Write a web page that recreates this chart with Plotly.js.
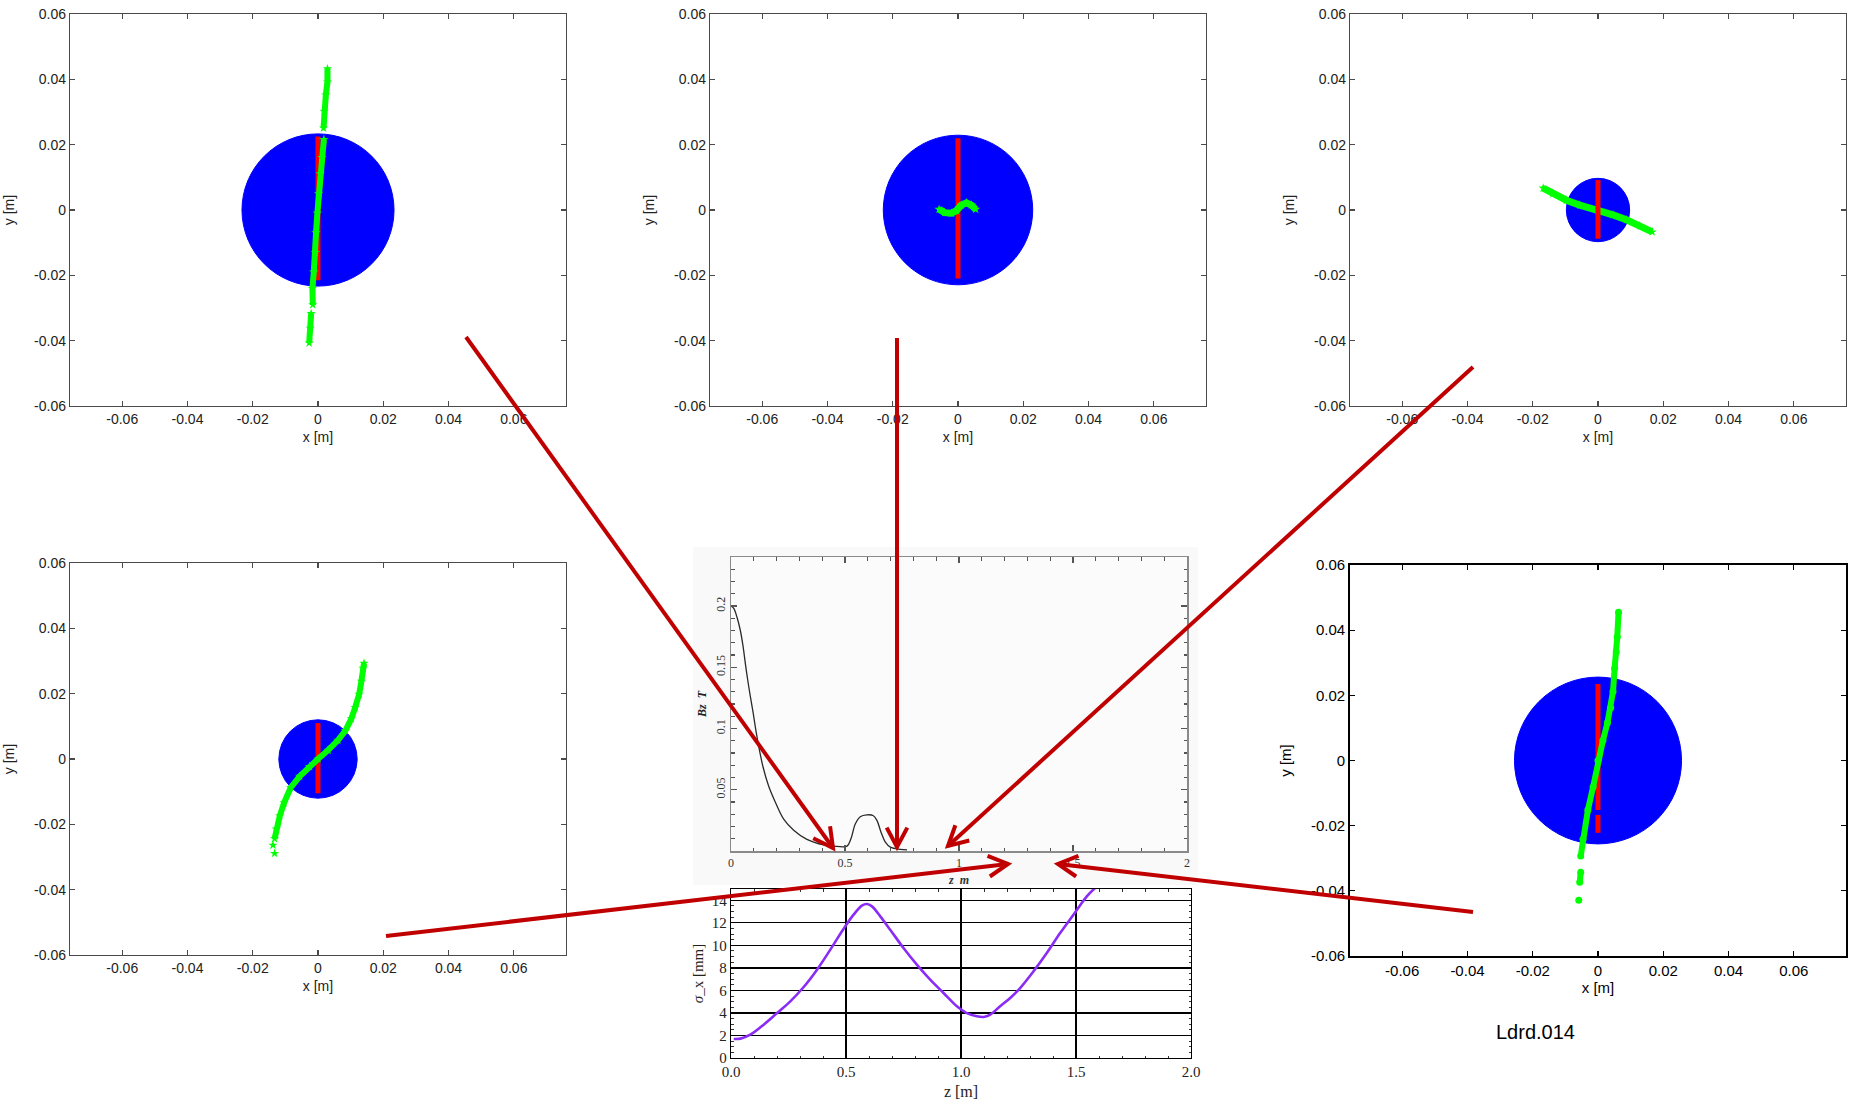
<!DOCTYPE html>
<html><head><meta charset="utf-8">
<script src="https://cdn.plot.ly/plotly-3.0.1.min.js"></script>
<style>html,body{margin:0;padding:0;background:#fff}#chart{width:1858px;height:1104px}</style>
</head><body><div id="chart"></div>
<script>
// ---------------- data ----------------
// beam radius [m] of the blue particle disc in each transverse panel (TL, TM, TR, BL, BR)
const beamRadius = [0.0233, 0.0229, 0.0097, 0.0120, 0.0256];

// red (vertical) particle line, y extent [m]
const redY1 = [0.0225, -0.0215];
const redY2 = [0.0220, -0.0210];
const redY3 = [0.0092, -0.0088];
const redY4 = [0.0110, -0.0105];
const redY5 = [0.0235, -0.0152, null, -0.0167, -0.0222];

// green particle line [m]
const greenX1 = [0.0029,0.0029,0.0024,0.0019,0.0017,null,0.0018,0.0012,0.0007,0.0002,-0.0002,-0.0006,-0.0008,-0.0013,-0.0017,-0.0016,null,-0.0021,-0.0024,-0.0027];
const greenY1 = [0.0432,0.0392,0.0352,0.0302,0.0251,null,0.0216,0.0161,0.0111,0.0050,-0.0010,-0.0070,-0.0130,-0.0190,-0.0240,-0.0290,null,-0.0317,-0.0362,-0.0407];
const greenX2 = [-0.0058,-0.0041,-0.0020,-0.0005,0.0010,0.0026,0.0041,0.0054];
const greenY2 = [0.0002,-0.0008,-0.0010,-0.0002,0.0015,0.0022,0.0015,0.0002];
const greenX3 = [-0.0168,-0.0138,-0.0097,-0.0056,0.0000,0.0046,0.0087,0.0128,0.0166];
const greenY3 = [0.0067,0.0050,0.0030,0.0015,0.0000,-0.0015,-0.0030,-0.0048,-0.0067];
const greenX4 = [-0.0133,null,-0.0138,null,-0.0133,-0.0128,-0.0117,-0.0104,-0.0084,-0.0056,-0.0026,0.0000,0.0031,0.0061,0.0084,0.0102,0.0114,0.0126,0.0133,0.0138,0.0141];
const greenY4 = [-0.0289,null,-0.0264,null,-0.0244,-0.0214,-0.0174,-0.0134,-0.0088,-0.0053,-0.0023,0.0000,0.0027,0.0057,0.0087,0.0123,0.0158,0.0198,0.0238,0.0278,0.0293];
const greenX5 = [-0.0059,null,-0.0056,-0.0053,null,-0.0053,-0.0046,-0.0031,-0.0015,0.0000,0.0015,0.0029,0.0039,0.0046,0.0051,0.0056,0.0059,0.0063];
const greenY5 = [-0.0429,null,-0.0374,-0.0343,null,-0.0293,-0.0242,-0.0152,-0.0081,0.0000,0.0061,0.0116,0.0162,0.0212,0.0283,0.0333,0.0379,0.0455];

// on-axis field Bz [T] versus z [m]
const bzZ = [0.000,0.012,0.026,0.041,0.053,0.063,0.073,0.085,0.097,0.107,0.121,0.140,0.165,0.194,0.231,0.275,0.333,0.406,0.480,0.509,0.526,0.545,0.567,0.596,0.623,0.640,0.658,0.677,0.699,0.743,0.772];
const bzB = [0.200,0.198,0.191,0.180,0.167,0.153,0.140,0.126,0.113,0.101,0.086,0.069,0.053,0.040,0.026,0.017,0.0095,0.0050,0.0035,0.0040,0.0100,0.0220,0.0280,0.0295,0.0290,0.0250,0.0154,0.0073,0.0032,0.0014,0.0010];

// rms beam size sigma_x [mm] versus z [m]
const sigZ = [0.012,0.041,0.084,0.142,0.200,0.258,0.316,0.374,0.432,0.489,0.533,0.569,0.591,0.613,0.649,0.692,0.750,0.808,0.866,0.924,0.982,1.025,1.069,1.098,1.127,1.170,1.214,1.257,1.315,1.373,1.431,1.489,1.547,1.583];
const sigX = [1.69,1.72,2.07,2.96,3.99,5.03,6.30,7.84,9.62,11.45,12.72,13.52,13.67,13.46,12.57,11.39,9.76,8.28,6.95,5.77,4.59,3.99,3.70,3.64,3.85,4.59,5.33,6.21,7.69,9.32,11.09,12.72,14.35,15.09];

// tick labels
const xyTickVals = [-0.06,-0.04,-0.02,0,0.02,0.04,0.06];
const xyTickText = ['-0.06','-0.04','-0.02','0','0.02','0.04','0.06'];
const bzXTickVals = [0,0.5,1,1.5,2];
const bzXTickText = ['0','0.5','1','1.5','2'];
const bzYTickVals = [0.05,0.1,0.15,0.2];
const bzYTickText = ['0.05','0.1','0.15','0.2'];
const sigXTickVals = [0,0.5,1,1.5,2];
const sigXTickText = ['0.0','0.5','1.0','1.5','2.0'];
const sigYTickVals = [0,2,4,6,8,10,12,14];
const sigYTickText = ['0','2','4','6','8','10','12','14'];

// ---------------- layout helpers ----------------
const W = 1858, H = 1104;
const hd = (a,b) => [a/W, b/W];
const vd = (top,bottom) => [1-bottom/H, 1-top/H];
const SANS = 'Liberation Sans, Arial, sans-serif';
const SERIF = 'Liberation Serif, Times New Roman, serif';

// panel boxes [left,right,top,bottom] in pixels
const boxes = [[70,566,14,406],[710,1206,14,406],[1350,1846,14,406],[70,566,563,955],[1350,1846,565,956]];

const layout = {
  width: W, height: H,
  margin: {l:0, r:0, t:0, b:0},
  paper_bgcolor: '#ffffff',
  plot_bgcolor: 'rgba(0,0,0,0)',
  showlegend: false,
  shapes: [],
  annotations: []
};

const traces = [];
const reds = [redY1, redY2, redY3, redY4, redY5];
const gx = [greenX1, greenX2, greenX3, greenX4, greenX5];
const gy = [greenY1, greenY2, greenY3, greenY4, greenY5];

boxes.forEach((b, i) => {
  const n = i + 1;
  const xa = 'xaxis' + (n === 1 ? '' : n), ya = 'yaxis' + (n === 1 ? '' : n);
  const xr = 'x' + (n === 1 ? '' : n), yr = 'y' + (n === 1 ? '' : n);
  const isBR = (i === 4);
  const lc = isBR ? '#000000' : '#4a4a4a';
  const tf = {family: SANS, size: isBR ? 15 : 14, color: isBR ? '#000' : '#222'};
  const common = {
    showline: true, mirror: 'ticks', linecolor: lc, linewidth: isBR ? 1.8 : 1.2,
    ticks: 'inside', ticklen: 5, tickwidth: 1.2, tickcolor: lc,
    showgrid: false, zeroline: false, tickmode: 'array',
    tickvals: xyTickVals, ticktext: xyTickText, tickfont: tf, fixedrange: true
  };
  layout[xa] = Object.assign({}, common, {
    domain: hd(b[0], b[1]), anchor: yr, range: [-0.0760, 0.0760],
    title: {text: 'x [m]', font: {family: SANS, size: isBR ? 15 : 14, color: isBR ? '#000' : '#222'}, standoff: isBR ? 4 : 6}
  });
  layout[ya] = Object.assign({}, common, {
    domain: vd(b[2], b[3]), anchor: xr, range: [-0.06, 0.06],
    title: {text: 'y [m]', font: {family: SANS, size: isBR ? 15 : 14, color: isBR ? '#000' : '#222'}, standoff: 16}
  });
  // blue particle disc
  const r = beamRadius[i];
  layout.shapes.push({type: 'circle', xref: xr, yref: yr, x0: -r, x1: r, y0: -r, y1: r,
    fillcolor: '#0000ff', line: {color: '#0000ff', width: 1}, layer: 'below'});
  const red = {x: reds[i].map(v => v === null ? null : 0), y: reds[i], xaxis: xr, yaxis: yr,
    mode: 'lines', line: {color: '#ff0000', width: 5}, hoverinfo: 'skip'};
  const green = {x: gx[i], y: gy[i], xaxis: xr, yaxis: yr,
    mode: 'lines+markers', line: {color: '#00ff00', width: (i === 1 || i === 2) ? 7 : 6},
    marker: {color: '#00ff00', size: isBR ? 7 : 7, symbol: isBR ? 'circle' : 'star'},
    hoverinfo: 'skip'};
  if (i === 2) { traces.push(green, red); } else { traces.push(red, green); }
});

// Bz plot background
layout.shapes.push({type: 'rect', xref: 'paper', yref: 'paper', x0: 693/W, x1: 1198/W, y0: 1-885/H, y1: 1-547/H,
  fillcolor: '#f9f9f9', line: {width: 0}, layer: 'below'});

layout.xaxis6 = {
  domain: hd(731, 1187), anchor: 'y6', range: [0, 2], showline: true, mirror: 'ticks', linecolor: '#8a8a8a', linewidth: 1.5,
  ticks: 'inside', ticklen: 6, tickcolor: '#555', tickwidth: 1.2, tickmode: 'array', tickvals: bzXTickVals, ticktext: bzXTickText,
  minor: {dtick: 0.1, ticks: 'inside', ticklen: 3.5, tickcolor: '#555', showgrid: false},
  tickfont: {family: SERIF, size: 12, color: '#333'}, showgrid: false, zeroline: false, fixedrange: true,
  title: {text: '<b><i>z  m</i></b>', font: {family: SERIF, size: 12, color: '#333'}, standoff: 6}
};
layout.yaxis6 = {
  domain: vd(557, 851), anchor: 'x6', range: [0, 0.24], showline: true, mirror: 'ticks', linecolor: '#8a8a8a', linewidth: 1.5,
  ticks: 'inside', ticklen: 6, tickcolor: '#555', tickwidth: 1.2, tickmode: 'array', tickvals: bzYTickVals, ticktext: bzYTickText,
  minor: {dtick: 0.01, ticks: 'inside', ticklen: 3.5, tickcolor: '#555', showgrid: false},
  tickangle: -90, tickfont: {family: SERIF, size: 12, color: '#333'}, showgrid: false, zeroline: false, fixedrange: true,
  title: {text: '<b><i>Bz  T</i></b>', font: {family: SERIF, size: 12, color: '#222'}, standoff: 4}
};
layout.shapes.push({type: 'rect', xref: 'x6 domain', yref: 'y6 domain', x0: 0, x1: 1, y0: 0, y1: 1,
  fillcolor: '#fbfbfb', line: {width: 0}, layer: 'below'});
traces.push({x: bzZ, y: bzB, xaxis: 'x6', yaxis: 'y6', mode: 'lines', line: {color: '#2a2a2a', width: 1.3, shape: 'spline'}, hoverinfo: 'skip'});

layout.xaxis7 = {
  domain: hd(731, 1191), anchor: 'y7', range: [0, 2], showline: true, mirror: 'ticks', linecolor: '#000', linewidth: 1.3,
  ticks: 'inside', ticklen: 4, tickcolor: '#000', tickmode: 'array', tickvals: sigXTickVals, ticktext: sigXTickText,
  minor: {dtick: 0.1, ticks: 'inside', ticklen: 2.5, tickcolor: '#333', showgrid: false},
  showgrid: true, gridcolor: '#000', gridwidth: 1.3, zeroline: false, fixedrange: true,
  tickfont: {family: SERIF, size: 15, color: '#222'},
  title: {text: 'z [m]', font: {family: SERIF, size: 16, color: '#222'}, standoff: 6}
};
layout.yaxis7 = {
  domain: vd(889, 1058), anchor: 'x7', range: [0, 15], showline: true, mirror: 'ticks', linecolor: '#000', linewidth: 1.3,
  ticks: 'inside', ticklen: 4, tickcolor: '#000', tickmode: 'array', tickvals: sigYTickVals, ticktext: sigYTickText,
  minor: {dtick: 0.5, ticks: 'inside', ticklen: 2.5, tickcolor: '#333', showgrid: false},
  showgrid: true, gridcolor: '#000', gridwidth: 1.3, zeroline: false, fixedrange: true,
  tickfont: {family: SERIF, size: 15, color: '#222'},
  title: {text: '<i>σ</i>_x [mm]', font: {family: SERIF, size: 15, color: '#222'}, standoff: 4}
};
layout.shapes.push({type: 'rect', xref: 'x7 domain', yref: 'y7 domain', x0: 0, x1: 1, y0: 0, y1: 1,
  fillcolor: '#ffffff', line: {width: 0}, layer: 'below'});
traces.push({x: sigZ, y: sigX, xaxis: 'x7', yaxis: 'y7', mode: 'lines', line: {color: '#8a2cf6', width: 2.6, shape: 'spline'},
  cliponaxis: true, hoverinfo: 'skip'});

// red arrows from each transverse panel to its position along the beamline (pixel geometry)
const arrowTail = [[466,337],[897,338],[1473,367],[386,936],[1473,912]];
const arrowTip  = [[833,848],[897,847],[948,846],[1008,864],[1058,864]];
const AC = '#c00000', ARM = 22, ANG = 28 * Math.PI / 180;
arrowTail.forEach((t, i) => {
  const p = arrowTip[i];
  const dx = p[0] - t[0], dy = p[1] - t[1], L = Math.hypot(dx, dy);
  const ux = dx / L, uy = dy / L;
  const arm = s => {
    const c = Math.cos(s * ANG), sn = Math.sin(s * ANG);
    const rx = ux * c - uy * sn, ry = ux * sn + uy * c;
    return [p[0] - ARM * rx, p[1] - ARM * ry];
  };
  const a1 = arm(1), a2 = arm(-1);
  layout.shapes.push({type: 'line', xref: 'paper', yref: 'paper', x0: t[0]/W, y0: 1-t[1]/H, x1: p[0]/W, y1: 1-p[1]/H,
    line: {color: AC, width: 4}, layer: 'above'});
  layout.shapes.push({type: 'path', xref: 'paper', yref: 'paper',
    path: `M ${a1[0]/W} ${1-a1[1]/H} L ${p[0]/W} ${1-p[1]/H} L ${a2[0]/W} ${1-a2[1]/H}`,
    line: {color: AC, width: 4}, layer: 'above'});
});

layout.annotations.push({text: 'Ldrd.014', xref: 'paper', yref: 'paper', x: 1535/W, y: 1-1032/H,
  showarrow: false, font: {family: SANS, size: 20, color: '#000'}, xanchor: 'center', yanchor: 'middle'});

Plotly.newPlot('chart', traces, layout, {staticPlot: true, displayModeBar: false});
</script>
</body></html>
